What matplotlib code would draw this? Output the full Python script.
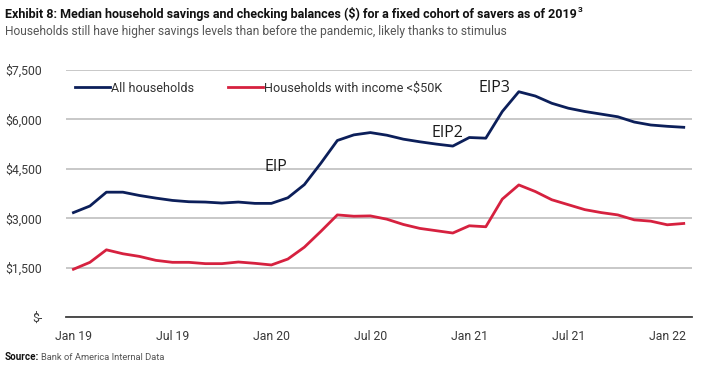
import matplotlib
matplotlib.use("Agg")
import matplotlib.pyplot as plt
from matplotlib import font_manager

names = {f.name for f in font_manager.fontManager.ttflist}
base = 'Liberation Sans Narrow' if 'Liberation Sans Narrow' in names else 'Roboto'
plt.rcParams['font.family'] = [base, 'DejaVu Sans']

months = ["Jan 19", "Feb 19", "Mar 19", "Apr 19", "May 19", "Jun 19", "Jul 19", "Aug 19",
          "Sep 19", "Oct 19", "Nov 19", "Dec 19", "Jan 20", "Feb 20", "Mar 20", "Apr 20",
          "May 20", "Jun 20", "Jul 20", "Aug 20", "Sep 20", "Oct 20", "Nov 20", "Dec 20",
          "Jan 21", "Feb 21", "Mar 21", "Apr 21", "May 21", "Jun 21", "Jul 21", "Aug 21",
          "Sep 21", "Oct 21", "Nov 21", "Dec 21", "Jan 22", "Feb 22"]
all_households = [3170, 3370, 3790, 3790, 3690, 3610, 3540, 3500, 3490, 3460, 3490, 3450,
                  3450, 3620, 4020, 4670, 5360, 5530, 5600, 5520, 5400, 5320, 5250, 5190,
                  5450, 5430, 6240, 6840, 6710, 6490, 6340, 6240, 6160, 6080, 5920, 5830,
                  5790, 5760]
low_income = [1450, 1660, 2040, 1920, 1840, 1720, 1660, 1660, 1620, 1620, 1670, 1630,
              1580, 1760, 2120, 2600, 3100, 3060, 3070, 2970, 2810, 2690, 2620, 2550,
              2770, 2740, 3580, 4010, 3810, 3560, 3410, 3260, 3170, 3100, 2950, 2910,
              2800, 2840]
tick_labels = ["Jan 19", "Jul 19", "Jan 20", "Jul 20", "Jan 21", "Jul 21", "Jan 22"]
ytick_vals = [0, 1500, 3000, 4500, 6000, 7500]
ytick_labels = ["$-", "$1,500", "$3,000", "$4,500", "$6,000", "$7,500"]
series_names = ["All households", "Households with income <$50K"]
annotations = [("EIP", 12.3, 4300), ("EIP2", 22.7, 5330), ("EIP3", 25.5, 6720)]

blue = "#0c1f5a"
red = "#d6213f"

fig = plt.figure(figsize=(7.18, 3.84), dpi=100)
renderer = fig.canvas.get_renderer()


def fit(t, target_px):
    w = t.get_window_extent(renderer).width
    t.set_fontsize(t.get_fontsize() * target_px / w)
    return t

probe = fig.text(0, 0, "Jan 19", fontsize=10)
fit(probe, 37)
tick_fs = probe.get_fontsize()
probe.remove()

probe = fig.text(0, 0, "All households", fontsize=10)
fit(probe, 82)
leg_fs = probe.get_fontsize()
probe.remove()

ax = fig.add_axes([66/718, 1-317/384, (692-66)/718, (317-70)/384])

x = list(range(len(months)))
ax.plot(x, all_households, color=blue, lw=2.0, label=series_names[0])
ax.plot(x, low_income, color=red, lw=2.0, label=series_names[1])

ax.set_ylim(0, 7500)
ax.set_xlim(-0.45, 37.5)
ax.set_yticks(ytick_vals)
ax.set_yticklabels(ytick_labels)
tick_pos = [months.index(t) for t in tick_labels]
ax.set_xticks(tick_pos)
ax.set_xticklabels(tick_labels)
ax.tick_params(axis='both', length=0, labelsize=tick_fs, colors="#3a3a3a")
ax.tick_params(axis='y', pad=17)
ax.tick_params(axis='x', pad=9)
ax.grid(axis='y', color="#bfbfbf", lw=1.2)
ax.set_axisbelow(True)
for s in ["top", "right", "left"]:
    ax.spines[s].set_visible(False)
ax.spines["bottom"].set_color("#404040")
ax.spines["bottom"].set_linewidth(1.3)

leg_px = leg_fs * 100 / 72
leg = ax.legend(loc="center left", bbox_to_anchor=(9/626, 1 - 18/247), ncol=2, frameon=False,
                fontsize=leg_fs, handlelength=35/leg_px, handletextpad=1/leg_px,
                columnspacing=34/leg_px, borderaxespad=0, borderpad=0)
for t in leg.get_texts():
    t.set_color("#333333")

for txt, xv, yv in annotations:
    ax.text(xv, yv, txt, fontsize=11.5, color="#1a1a1a", family=['Open Sans', 'DejaVu Sans'],
            ha='center', va='bottom')

title = fig.text(5/718, 1-14/384, "Exhibit 8: Median household savings and checking balances ($) for a fixed cohort of savers as of 2019",
                 fontsize=11, fontweight='bold', color="#111111", va='center')
fit(title, 572)
tb = title.get_window_extent(renderer)
fig.text((tb.x1 + 1)/718, 1-9/384, "3", fontsize=6, fontweight='bold', color="#111111", va='center')
sub = fig.text(5/718, 1-31/384, "Households still have higher savings levels than before the pandemic, likely thanks to stimulus",
               fontsize=10, color="#555555", va='center')
fit(sub, 503)
src = fig.text(5/718, 1-357/384, "Source:", fontsize=7.5, fontweight='bold', color="#111111", va='center')
fit(src, 34)
src2 = fig.text(41/718, 1-357/384, "Bank of America Internal Data", fontsize=7.5, color="#555555", va='center')
fit(src2, 124)

fig.savefig("out.png", dpi=100)
